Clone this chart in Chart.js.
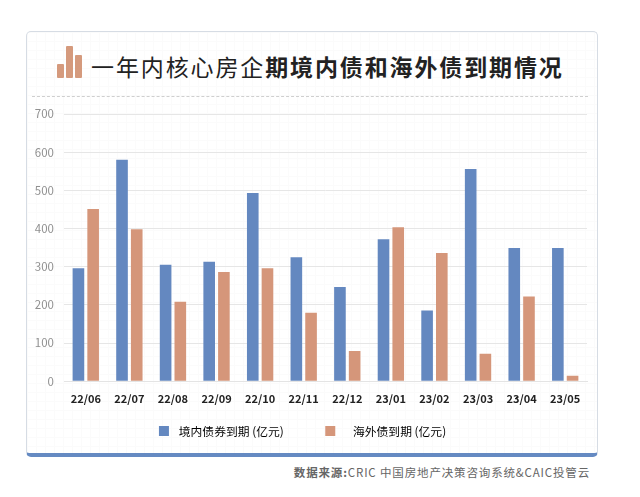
<!DOCTYPE html>
<html>
<head>
<meta charset="utf-8">
<script src="https://cdn.jsdelivr.net/npm/chart.js@4"></script>
<style>
html, body { margin: 0; padding: 0; background: #fff; }
body { width: 640px; height: 497px; position: relative; overflow: hidden; font-family: "Noto Sans CJK SC", sans-serif; }
.card {
    position: absolute; left: 26px; top: 31px; width: 570px; height: 421px;
    border: 1.5px solid #d6dce4; border-bottom: 4px solid #658ac2; border-radius: 5px;
    background-color: #fff;
    background-image: linear-gradient(#fbfbfb 1px, transparent 1px), linear-gradient(90deg, #fbfbfb 1px, transparent 1px);
    background-size: 9px 9px;
}
.bar { position: absolute; background: #d59a7d; border-radius: 1px; }
.title {
    position: absolute; left: 91px; top: 48px; white-space: nowrap;
    font-size: 23px; line-height: 36px; letter-spacing: 1.88px; color: #222;
}
.title b { font-weight: 700; }
.dash { position: absolute; left: 32px; top: 96px; width: 556px; border-top: 1px dashed #cfcfcf; }
.source {
    position: absolute; right: 50px; top: 463px; white-space: nowrap;
    font-size: 11.5px; line-height: 18px; letter-spacing: 0.85px; color: #666;
}
.source b { font-weight: 700; }
canvas { position: absolute; left: 0; top: 0; }
</style>
</head>
<body>
<div class="card"></div>
<div class="bar" style="left:57px;top:64px;width:7px;height:14px"></div>
<div class="bar" style="left:66px;top:46px;width:7px;height:32px"></div>
<div class="bar" style="left:75px;top:55px;width:7px;height:23px"></div>
<div class="title">一年内核心房企<b>期境内债和海外债到期情况</b></div>
<div class="dash"></div>
<div class="source"><b>数据来源:</b>CRIC 中国房地产决策咨询系统&amp;CAIC投管云</div>
<div style="position:absolute;left:0;top:0;width:640px;height:497px">
    <canvas id="chart"></canvas>
</div>
<script>
const months = ['22/06', '22/07', '22/08', '22/09', '22/10', '22/11', '22/12', '23/01', '23/02', '23/03', '23/04', '23/05'];
const domesticDue = [296, 580, 305, 313, 493, 325, 247, 372, 185, 556, 349, 349];
const overseasDue = [451, 398, 208, 286, 296, 179, 79, 403, 336, 72, 222, 14];
const domesticLabel = '境内债券到期 (亿元)';
const overseasLabel = '海外债到期 (亿元)';
// spaces around the legend text, the reference has uneven gaps
const legendBefore = ['\u2004', '\u2002\u2002'];
const legendAfter = ['\u2003\u2003\u2002', '\u2002'];

const cjkFont = '"Noto Sans CJK SC", sans-serif';

new Chart(document.getElementById('chart'), {
    type: 'bar',
    data: {
        labels: months,
        datasets: [
            { label: domesticLabel, data: domesticDue, backgroundColor: '#6488c0' },
            { label: overseasLabel, data: overseasDue, backgroundColor: '#d5967a' }
        ]
    },
    options: {
        responsive: true,
        maintainAspectRatio: false,
        animation: false,
        datasets: { bar: { categoryPercentage: 0.675, barPercentage: 0.79 } },
        layout: { padding: { left: 24, right: 53, top: 114, bottom: 50 } },
        plugins: {
            tooltip: { enabled: false },
            legend: {
                position: 'bottom',
                labels: {
                    boxWidth: 10,
                    boxHeight: 10,
                    padding: 12,
                    color: '#777',
                    font: { family: cjkFont, size: 11.8 },
                    generateLabels: function(chart) {
                        return chart.data.datasets.map(function(ds, i) {
                            return {
                                text: legendBefore[i] + ds.label + legendAfter[i],
                                fillStyle: ds.backgroundColor,
                                strokeStyle: ds.backgroundColor,
                                lineWidth: 0,
                                datasetIndex: i
                            };
                        });
                    }
                }
            }
        },
        scales: {
            x: {
                grid: { display: false },
                border: { color: '#e4e4e4' },
                afterFit: function(axis) { axis.height = 32; },
                ticks: { color: '#222', maxRotation: 0, padding: 3, font: { family: cjkFont, size: 11, weight: 'bold' } }
            },
            y: {
                min: 0,
                max: 700,
                afterFit: function(axis) { axis.width = 40; },
                grid: { color: '#e6e6e6', drawTicks: false },
                border: { display: false },
                ticks: { stepSize: 100, color: '#909090', padding: 10, font: { family: cjkFont, size: 11.5 } }
            }
        }
    }
});
</script>
</body>
</html>
